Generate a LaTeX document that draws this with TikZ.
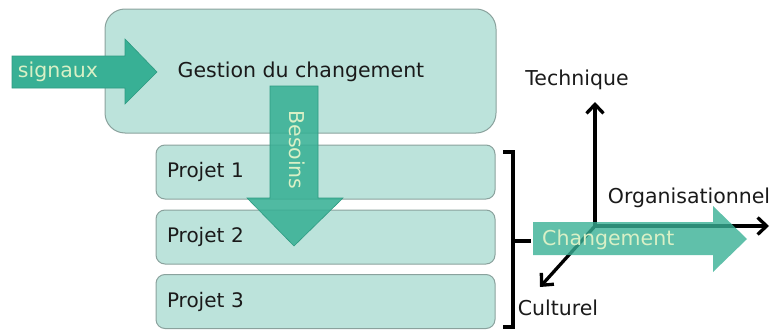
\documentclass[tikz,border=0pt]{standalone}
\usepackage{fontspec}
\setmainfont{DejaVu Sans}
\usetikzlibrary{arrows.meta}
\definecolor{boxfill}{HTML}{BCE3DB}
\definecolor{boxline}{HTML}{8AA29D}
\definecolor{flow}{HTML}{38B095}
\definecolor{flowedge}{HTML}{2E9A82}
\definecolor{flowtext}{HTML}{D9F0C6}
\definecolor{ink}{HTML}{1A1A1A}
\tikzset{
  panel/.style={draw=boxline, line width=1pt, fill=boxfill, rounded corners=20pt},
  projbox/.style={draw=boxline, line width=1pt, fill=boxfill, rounded corners=9pt,
    minimum width=339pt, minimum height=54pt, text width=317pt, align=left,
    inner xsep=11pt, inner ysep=0pt, text=ink, font=\fontsize{20}{24}\selectfont},
  blockarrow/.style={fill=flow, draw=flowedge, line width=0.6pt},
  flowlabel/.style={text=flowtext, font=\fontsize{20.5}{24}\selectfont, inner sep=0pt},
  label/.style={text=ink, font=\fontsize{20.5}{24}\selectfont, inner sep=0pt},
  axis/.style={draw=black, line width=3.3pt, -{Straight Barb[length=9pt,width=17pt,line width=3.3pt]}},
  bracket/.style={draw=black, line width=3.3pt}
}
\begin{document}
\begin{tikzpicture}[x=1pt, y=-1pt]
  \useasboundingbox (0,0) rectangle (771,332);

  % main management box
  \draw[panel] (105,9) rectangle (496,133);
  \node[label] (gestion) at (301,72) {Gestion du changement};

  % project boxes
  \node[projbox] (p1) at (325.5,172) {Projet 1};
  \node[projbox] (p2) at (325.5,237) {Projet 2};
  \node[projbox] (p3) at (325.5,301.5) {Projet 3};

  % incoming signals arrow
  \filldraw[blockarrow] (12,56) -- (125,56) -- (125,39) -- (157,72) -- (125,104)
    -- (125,88) -- (12,88) -- cycle;
  \node[flowlabel] (signaux) at (58,72) {signaux};

  % needs arrow flowing down into the projects
  \filldraw[blockarrow, fill opacity=0.88] (270,86) -- (318,86) -- (318,198) -- (343,198) -- (294,246)
    -- (247,198) -- (270,198) -- cycle;
  \node[flowlabel, rotate=-90] (besoins) at (297.5,150) {Besoins};

  % bracket grouping the projects
  \draw[bracket] (503,152) -- (513,152) -- (513,327) -- (503,327);
  \coordinate (brmid) at (513,241);
  \coordinate (brend) at (531,241);
  \draw[bracket] (brmid) -- (brend);

  % axes of change
  \coordinate (origin) at (595,226);
  \coordinate (tipT) at (595,102);
  \coordinate (tipO) at (769,226);
  \coordinate (tipC) at (540,287);
  \draw[axis] (origin) -- (tipT);
  \draw[axis] (origin) -- (tipO);
  \draw[axis] (origin) -- (tipC);
  \node[label] (technique) at (577,80) {Technique};
  \node[label] (organisationnel) at (689,198) {Organisationnel};
  \node[label] (culturel) at (558,308) {Culturel};

  % change arrow over the axes
  \fill[flow, fill opacity=0.8] (533,222) -- (713,222) -- (713,206) -- (747,239)
    -- (713,272) -- (713,255) -- (533,255) -- cycle;
  \node[flowlabel, anchor=west] (changement) at (542,240) {Changement};
\end{tikzpicture}
\end{document}
